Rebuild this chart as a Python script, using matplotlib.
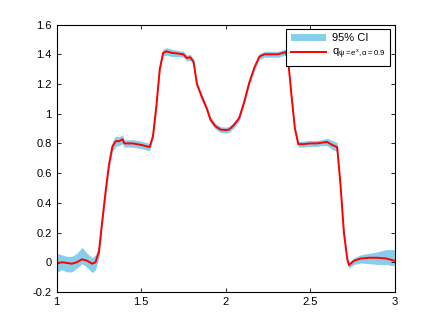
import numpy as np
import matplotlib
matplotlib.use("Agg")
import matplotlib.pyplot as plt

plt.rcParams['font.family'] = ['Liberation Sans', 'DejaVu Sans']
plt.rcParams['mathtext.fontset'] = 'custom'
plt.rcParams['mathtext.rm'] = 'Liberation Sans'
plt.rcParams['mathtext.it'] = 'Liberation Sans'

# values
x = [1.00, 1.03, 1.06, 1.09, 1.12, 1.15, 1.18, 1.21, 1.23, 1.25,
     1.27, 1.29, 1.31, 1.33, 1.35, 1.37, 1.39, 1.40, 1.45, 1.50,
     1.55, 1.57, 1.59, 1.61, 1.63, 1.65, 1.68, 1.72, 1.75, 1.77,
     1.79, 1.81, 1.83, 1.86, 1.89, 1.91, 1.94, 1.97, 2.00, 2.02,
     2.05, 2.08, 2.11, 2.14, 2.17, 2.20, 2.23, 2.27, 2.31, 2.34,
     2.355, 2.37, 2.39, 2.41, 2.43, 2.46, 2.50, 2.54, 2.57, 2.60,
     2.63, 2.66, 2.68, 2.70, 2.72, 2.73, 2.76, 2.80, 2.85, 2.90,
     2.95, 3.00]
q = [-0.01, 0.00, -0.005, -0.01, 0.00, 0.02, 0.01, -0.01, 0.00, 0.07,
     0.28, 0.48, 0.66, 0.78, 0.815, 0.815, 0.828, 0.80, 0.80, 0.79,
     0.775, 0.85, 1.05, 1.30, 1.41, 1.42, 1.41, 1.405, 1.40, 1.375,
     1.38, 1.35, 1.20, 1.11, 1.03, 0.96, 0.915, 0.893, 0.89, 0.893,
     0.925, 0.97, 1.08, 1.21, 1.31, 1.385, 1.40, 1.40, 1.40, 1.41,
     1.415, 1.36, 1.12, 0.90, 0.795, 0.795, 0.80, 0.80, 0.805, 0.81,
     0.79, 0.775, 0.52, 0.20, 0.02, -0.02, 0.01, 0.025, 0.03, 0.03,
     0.025, 0.01]
ci_lo = [0.06, 0.05, 0.06, 0.055, 0.04, 0.03, 0.045, 0.06, 0.05, 0.04,
         0.03, 0.03, 0.03, 0.035, 0.035, 0.03, 0.03, 0.025, 0.025, 0.025,
         0.025, 0.025, 0.025, 0.025, 0.025, 0.025, 0.025, 0.02, 0.02, 0.02,
         0.02, 0.02, 0.02, 0.02, 0.02, 0.02, 0.02, 0.02, 0.02, 0.02,
         0.02, 0.02, 0.02, 0.02, 0.02, 0.02, 0.02, 0.02, 0.02, 0.02,
         0.02, 0.02, 0.02, 0.02, 0.02, 0.02, 0.02, 0.02, 0.02, 0.025,
         0.03, 0.03, 0.02, 0.02, 0.02, 0.02, 0.025, 0.03, 0.04, 0.045,
         0.04, 0.035]
ci_hi = [0.07, 0.05, 0.045, 0.05, 0.06, 0.08, 0.05, 0.04, 0.05, 0.04,
         0.03, 0.03, 0.03, 0.035, 0.035, 0.03, 0.03, 0.025, 0.025, 0.025,
         0.025, 0.025, 0.025, 0.025, 0.025, 0.025, 0.025, 0.02, 0.02, 0.02,
         0.02, 0.02, 0.02, 0.02, 0.02, 0.02, 0.02, 0.02, 0.02, 0.02,
         0.02, 0.02, 0.02, 0.02, 0.02, 0.02, 0.02, 0.02, 0.02, 0.02,
         0.02, 0.02, 0.02, 0.02, 0.02, 0.02, 0.02, 0.02, 0.02, 0.025,
         0.03, 0.03, 0.02, 0.02, 0.02, 0.02, 0.02, 0.025, 0.03, 0.04,
         0.06, 0.075]

xticks = [1, 1.5, 2, 2.5, 3]
xticklabels = ['1', '1.5', '2', '2.5', '3']
yticks = [-0.2, 0, 0.2, 0.4, 0.6, 0.8, 1, 1.2, 1.4, 1.6]
yticklabels = ['-0.2', '0', '0.2', '0.4', '0.6', '0.8', '1', '1.2', '1.4', '1.6']

x = np.array(x)
q = np.array(q)
ci_lo = np.array(ci_lo)
ci_hi = np.array(ci_hi)

fig = plt.figure(figsize=(4.36, 3.28), dpi=100)
ax = fig.add_axes([0.13, 0.11, 0.775, 0.815])

ax.fill_between(x, q - ci_lo, q + ci_hi, color='#87CEEB', linewidth=0,
                label='95% CI')
ax.plot(x, q, color='red', linewidth=1.4,
        label=r'q$_{\psi\mathrm{=e}^{x}\mathrm{,\alpha=0.9}}$')

ax.set_xlim(1, 3)
ax.set_ylim(-0.2, 1.6)
ax.set_xticks(xticks)
ax.set_xticklabels(xticklabels)
ax.set_yticks(yticks)
ax.set_yticklabels(yticklabels)
ax.tick_params(direction='in', top=True, right=True, labelsize=8, length=3,
               width=0.6)
for s in ax.spines.values():
    s.set_linewidth(0.8)

leg = ax.legend(loc='upper right', fontsize=8, fancybox=False, framealpha=1,
                edgecolor='black', borderaxespad=0.4, handlelength=3.2,
                handletextpad=0.5, borderpad=0.4, labelspacing=0.3)
leg.get_frame().set_linewidth(0.8)

fig.savefig('out.png', dpi=100)
